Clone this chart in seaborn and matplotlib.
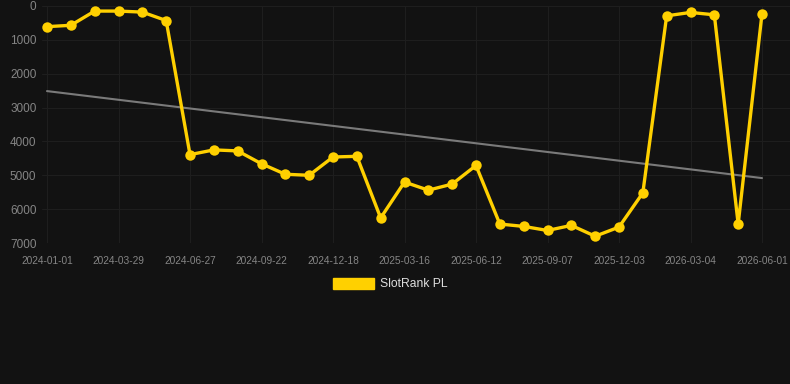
import matplotlib
matplotlib.use("Agg")
import matplotlib.pyplot as plt
import matplotlib.dates as mdates
import matplotlib.patches as mpatches
import seaborn as sns
import pandas as pd
import numpy as np

# monthly ranking points, Jan 2024 .. Jun 2026 (lower is better, axis inverted)
ranks = [610, 570, 150, 150, 180, 430,
         4390, 4250, 4280, 4660, 4970, 5000,
         4460, 4440, 6260, 5200, 5440, 5260,
         4710, 6440, 6510, 6630, 6480, 6800,
         6530, 5520, 290, 190, 260, 6440,
         230]
tick_labels = ["2024-01-01", "2024-03-29", "2024-06-27", "2024-09-22", "2024-12-18",
               "2025-03-16", "2025-06-12", "2025-09-07", "2025-12-03", "2026-03-04",
               "2026-06-01"]
series_name = "SlotRank PL"

bg = "#121212"
yellow = "#FFD000"

# points are evenly spaced between first and last tick, like the source chart
t0 = mdates.datestr2num(tick_labels[0])
t1 = mdates.datestr2num(tick_labels[-1])
xs = np.linspace(t0, t1, len(ranks))
df = pd.DataFrame({"x": xs, "rank": ranks})

sns.set_style("dark")
plt.rcParams["font.family"] = ["Liberation Sans", "DejaVu Sans"]

fig = plt.figure(figsize=(7.9, 3.84), dpi=100, facecolor=bg)
ax = fig.add_axes([42 / 790, 1 - 243 / 384, 748 / 790, 237 / 384])
ax.set_facecolor(bg)

# trend line
sns.regplot(data=df, x="x", y="rank", ax=ax, scatter=False, ci=None, truncate=True,
            line_kws={"color": "#7a7a7a", "linewidth": 1.5, "zorder": 2})
sns.lineplot(data=df, x="x", y="rank", ax=ax, color=yellow, linewidth=2.4,
             marker="o", markersize=7.5, markeredgewidth=0, zorder=3)
for ln in ax.lines:
    ln.set_solid_joinstyle("miter")

px_day = (762 - 47) / (t1 - t0)
ax.set_xlim(t0 - 5 / px_day, t0 + 743 / px_day)
ax.set_ylim(7000, 0)

ax.set_xticks(np.linspace(t0, t1, len(tick_labels)))
ax.set_xticklabels(tick_labels)
ax.set_yticks(range(0, 7001, 1000))
ax.set_xlabel("")
ax.set_ylabel("")

ax.grid(True, color="#1e1e1e", linewidth=0.8)
for s in ax.spines.values():
    s.set_visible(False)
ax.tick_params(axis="x", colors="#858585", labelsize=7.3, length=0, pad=9)
ax.tick_params(axis="y", colors="#858585", labelsize=8.5, length=0, pad=4)

handle = mpatches.Patch(color=yellow, label=series_name)
fig.legend(handles=[handle], loc="center", bbox_to_anchor=(390 / 790, 1 - 284 / 384),
           frameon=False, labelcolor="#dddddd", fontsize=8.7, handlelength=3.4,
           handleheight=1.0, handletextpad=0.5)

fig.savefig("out.png", dpi=100, facecolor=bg)
